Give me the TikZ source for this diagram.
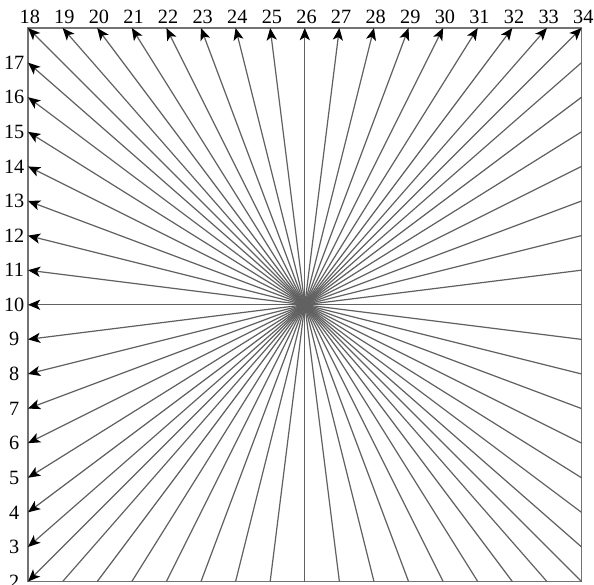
\documentclass[tikz,border=0pt]{standalone}
\usepackage{fontspec}
\setmainfont{Liberation Serif}
\usetikzlibrary{arrows.meta}
\tikzset{
  ray/.style={draw=black!62, line width=0.6pt},
  lab/.style={font=\normalsize, inner sep=0pt},
}
\begin{document}
\begin{tikzpicture}[x=0.6cm, y=0.6cm, >={Stealth[black,length=6pt,width=5pt,inset=1.5pt]}]
	\useasboundingbox (-0.81,-0.09) rectangle (16.36,16.81);
	% Cadre et centre
	\draw[black!55, line width=0.9pt] (0,0) rectangle (16,16);
	\coordinate (c) at (8,8);
	
	% Bord haut : 18 ... 34
	\foreach \n in {18,...,34} {
		\coordinate (p\n) at ({\n-18},16);
		\node[lab] (l\n) at ({\n-18+0.05},16.33) {\n};
		\draw[ray,->] (c) -- (p\n);
	}
	
	% Bord gauche : 2 ... 17
	\foreach \n in {2,...,17} {
		\coordinate (p\n) at (0,{\n-2});
		\node[lab] (l\n) at (-0.4,{\n-2}) {\n};
		\draw[ray,->] (c) -- (p\n);
	}
	
	% Bord droit et bord bas, sans fleches
	\foreach \k in {0,...,15} {
		\coordinate (r\k) at (16,\k);
		\draw[ray] (c) -- (r\k);
	}
	\foreach \k in {1,...,15} {
		\coordinate (b\k) at (\k,0);
		\draw[ray] (c) -- (b\k);
	}
\end{tikzpicture}
\end{document}
